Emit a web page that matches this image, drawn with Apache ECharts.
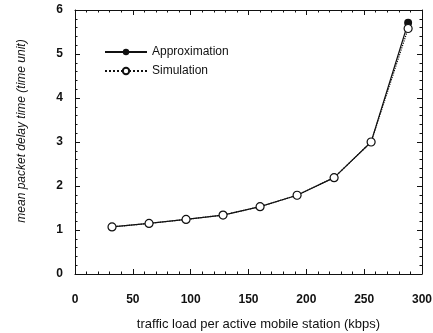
<!DOCTYPE html>
<html>
<head>
<meta charset="utf-8">
<script src="https://cdn.jsdelivr.net/npm/echarts@6/dist/echarts.min.js"></script>
<style>html,body{margin:0;padding:0;background:#fff;}#c{width:433px;height:333px;}</style>
</head>
<body>
<div id="c"></div>
<script>
var loads = [32, 64, 96, 128, 160, 192, 224, 256, 288];
var approximation = [1.07, 1.15, 1.24, 1.34, 1.53, 1.79, 2.19, 3.0, 5.71];
var simulation = [1.07, 1.15, 1.24, 1.34, 1.53, 1.79, 2.19, 3.0, 5.58];
var xTicks = [0, 50, 100, 150, 200, 250, 300];
var yTicks = [0, 1, 2, 3, 4, 5, 6];

function pairs(xs, ys) { return xs.map(function (x, i) { return [x, ys[i]]; }); }

var font = '"Liberation Sans", Arial, sans-serif';
var lineCol = '#111';
function axisBase(show) {
  return {
    axisLine: { show: true, onZero: false, lineStyle: { color: lineCol, width: 1 } },
    axisTick: { show: true, inside: true, length: 5, lineStyle: { color: lineCol } },
    minorTick: { show: true, splitNumber: 5, length: 2.5, lineStyle: { color: lineCol } },
    splitLine: { show: false },
    axisLabel: { show: show }
  };
}
var chart = echarts.init(document.getElementById('c'));
var xMain = Object.assign(axisBase(true), {
  type: 'value', position: 'bottom', min: xTicks[0], max: xTicks[xTicks.length - 1], interval: 50,
  name: 'traffic load per active mobile station (kbps)', nameLocation: 'middle', nameGap: 44,
  nameTextStyle: { fontFamily: font, fontSize: 13, color: '#111', padding: [0, 0, 0, 20] }
});
xMain.axisLabel = { show: true, margin: 20, fontFamily: font, fontSize: 12, fontWeight: 'bold', color: '#111' };
var xTop = Object.assign(axisBase(false), { type: 'value', position: 'top', min: 0, max: 300, interval: 50 });
var yMain = Object.assign(axisBase(true), {
  type: 'value', position: 'left', min: yTicks[0], max: yTicks[yTicks.length - 1], interval: 1,
  name: 'mean packet delay time (time unit)', nameLocation: 'middle', nameGap: 47,
  nameTextStyle: { fontFamily: font, fontSize: 12, fontStyle: 'italic', color: '#111', padding: [0, 0, 0, 22] }
});
yMain.axisLabel = { show: true, margin: 12, fontFamily: font, fontSize: 12, fontWeight: 'bold', color: '#111' };
var yRight = Object.assign(axisBase(false), { type: 'value', position: 'right', min: 0, max: 6, interval: 1 });

chart.setOption({
  animation: false,
  backgroundColor: '#fff',
  grid: { left: 75, right: 11, top: 10, bottom: 59, outerBoundsMode: 'none', containLabel: false },
  legend: {
    orient: 'vertical', left: 99, top: 41, itemWidth: 42, itemHeight: 8, itemGap: 7,
    textStyle: { fontFamily: font, fontSize: 12, color: '#111' },
    data: ['Approximation', 'Simulation']
  },
  xAxis: [xMain, xTop],
  yAxis: [yMain, yRight],
  series: [
    {
      name: 'Approximation', type: 'line', xAxisIndex: 0, yAxisIndex: 0,
      data: pairs(loads, approximation),
      symbol: 'circle', symbolSize: 8,
      itemStyle: { color: '#111' },
      lineStyle: { color: '#111', width: 1.2, type: 'solid' }
    },
    {
      name: 'Simulation', type: 'line', xAxisIndex: 0, yAxisIndex: 0,
      data: pairs(loads, simulation),
      symbol: 'circle', symbolSize: 8,
      itemStyle: { color: '#fff', borderColor: '#111', borderWidth: 1.2 },
      lineStyle: { color: '#111', width: 1.2, type: 'dotted' }
    },
    {
      name: 'frame', type: 'line', xAxisIndex: 1, yAxisIndex: 1, data: [], silent: true
    }
  ]
});
</script>
</body>
</html>
